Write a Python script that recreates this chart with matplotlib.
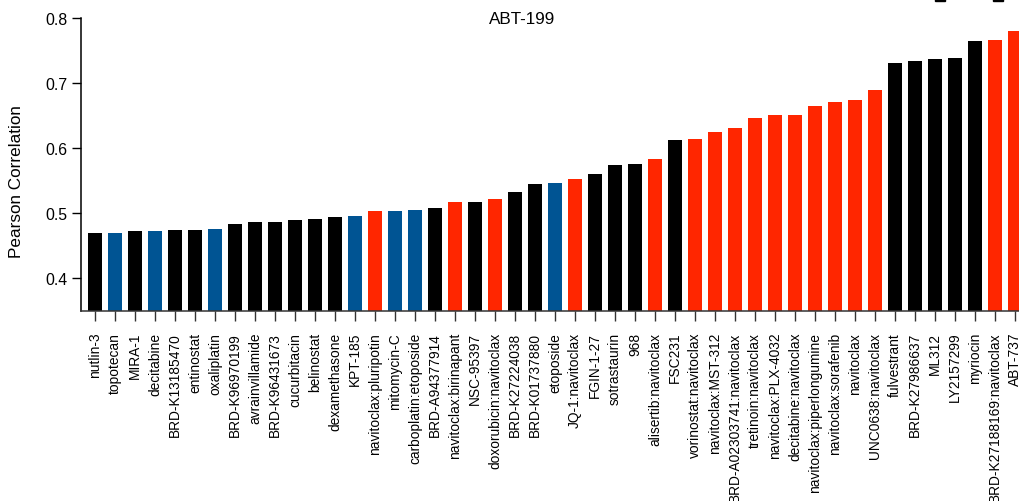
import matplotlib
matplotlib.use("Agg")
import matplotlib.pyplot as plt
from matplotlib.patches import Rectangle

plt.rcParams['font.family'] = ['Liberation Sans', 'DejaVu Sans']

drugs = ["nutlin-3", "topotecan", "MIRA-1", "decitabine", "BRD-K13185470",
         "entinostat", "oxaliplatin", "BRD-K96970199", "avrainvillamide",
         "BRD-K96431673", "cucurbitacin", "belinostat", "dexamethasone",
         "KPT-185", "navitoclax:pluripotin", "mitomycin-C",
         "carboplatin:etoposide", "BRD-A94377914", "navitoclax:birinapant",
         "NSC-95397", "doxorubicin:navitoclax", "BRD-K27224038",
         "BRD-K01737880", "etoposide", "JQ-1:navitoclax", "FGIN-1-27",
         "sotrastaurin", "968", "alisertib:navitoclax", "FSC231",
         "vorinostat:navitoclax", "navitoclax:MST-312",
         "BRD-A02303741:navitoclax", "tretinoin:navitoclax",
         "navitoclax:PLX-4032", "decitabine:navitoclax",
         "navitoclax:piperlongumine", "navitoclax:sorafenib", "navitoclax",
         "UNC0638:navitoclax", "fulvestrant", "BRD-K27986637", "ML312",
         "LY2157299", "myriocin", "BRD-K27188169:navitoclax", "ABT-737"]

pearson = [0.469, 0.469, 0.472, 0.472, 0.474, 0.474, 0.475, 0.483, 0.486,
           0.486, 0.489, 0.491, 0.494, 0.495, 0.503, 0.503, 0.505, 0.508,
           0.517, 0.517, 0.522, 0.532, 0.545, 0.546, 0.552, 0.560, 0.574,
           0.575, 0.583, 0.612, 0.614, 0.625, 0.631, 0.646, 0.651, 0.651,
           0.665, 0.671, 0.674, 0.689, 0.731, 0.734, 0.737, 0.738, 0.765,
           0.766, 0.780]

# k = other compound, b = DNA damaging, r = navitoclax combination
groups = ["k", "b", "k", "b", "k", "k", "b", "k", "k", "k", "k", "k", "k",
          "b", "r", "b", "b", "k", "r", "k", "r", "k", "k", "b", "r", "k",
          "k", "k", "r", "k", "r", "r", "r", "r", "r", "r", "r", "r", "r",
          "r", "k", "k", "k", "k", "k", "r", "r"]
palette = {"k": "#000000", "b": "#005493", "r": "#FF2600"}

W, H = 1019, 502
fig = plt.figure(figsize=(W / 100, H / 100), dpi=100)

# axes in pixel terms: left spine at x=81, baseline at y=312 from top
ax_w = 960
ax = fig.add_axes([81 / W, (H - 312) / H, ax_w / W, 312 / H])

x = list(range(len(drugs)))
ax.bar(x, pearson, width=0.7, color=[palette[g] for g in groups],
       bottom=0, zorder=2)

ax.set_xlim(-0.7, -0.7 + ax_w / 20)
ax.set_ylim(0.8 - 293 / 650, 0.8 + 19 / 650)

for side in ("top", "right"):
    ax.spines[side].set_visible(False)
ax.spines["left"].set_bounds(0.8 - 293 / 650, 0.8)
ax.spines["left"].set_linewidth(1.1)
ax.spines["bottom"].set_linewidth(1.1)
ax.spines["bottom"].set_color("#333333")

ax.set_yticks([0.4, 0.5, 0.6, 0.7, 0.8])
ax.set_yticklabels(["0.4", "0.5", "0.6", "0.7", "0.8"])
ax.tick_params(axis="y", direction="out", length=6.5, width=1,
               pad=3.5, labelsize=11.4)
ax.set_xticks(x)
ax.set_xticklabels(drugs, rotation=90, fontsize=9.9)
ax.tick_params(axis="x", direction="out", length=7, width=1,
               color="#333333", pad=8)

fig.text(17 / W, 1 - 182 / H, "Pearson Correlation", rotation=90,
         ha="center", va="center", fontsize=12.3)
fig.text(522 / W, 1 - 19 / H, "ABT-199", ha="center", va="center",
         fontsize=12.3)

# bottoms of the legend boxes sitting above the panel
for x0 in (935, 993):
    fig.add_artist(Rectangle((x0 / W, 1 - 2 / H), 10 / W, 2 / H,
                             transform=fig.transFigure, color="black"))

fig.savefig("out.png", dpi=100)
